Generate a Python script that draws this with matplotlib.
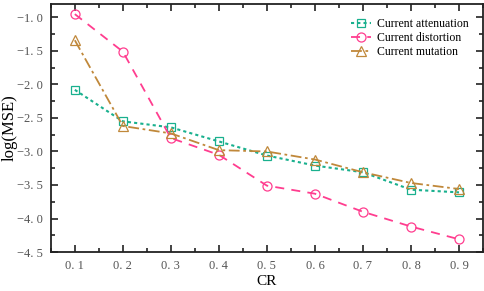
import matplotlib
matplotlib.use("Agg")
import matplotlib.pyplot as plt
from matplotlib.ticker import FuncFormatter, MultipleLocator

cr = [0.1, 0.2, 0.3, 0.4, 0.5, 0.6, 0.7, 0.8, 0.9]
attenuation = [-2.08, -2.55, -2.64, -2.85, -3.06, -3.21, -3.31, -3.57, -3.61]
distortion = [-0.95, -1.51, -2.80, -3.05, -3.51, -3.63, -3.90, -4.12, -4.31]
mutation = [-1.34, -2.62, -2.73, -2.98, -3.00, -3.12, -3.31, -3.47, -3.56]
labels = ["Current attenuation", "Current distortion", "Current mutation"]

plt.rcParams['font.family'] = ['Liberation Serif', 'DejaVu Serif']

fig = plt.figure(figsize=(4.84, 2.91), dpi=100)
ax = fig.add_axes([0.105, 0.134, 0.893, 0.852])

ax.plot(cr, attenuation, linestyle=(0, (1.5, 1.5)), color='#19b08e', lw=1.5,
        marker='s', ms=5.5, mfc='none', mec='#19b08e', mew=0.9, label=labels[0])
ax.plot(cr, distortion, linestyle=(0, (5, 4)), color='#ff3d8f', lw=1.3,
        marker='o', ms=6.5, mfc='none', mec='#ff3d8f', mew=0.9, label=labels[1])
ax.plot(cr, mutation, linestyle=(0, (6, 2, 1.5, 2)), color='#c0883a', lw=1.3,
        marker='^', ms=6.5, mfc='none', mec='#c0883a', mew=0.9, label=labels[2])

ax.set_xlim(0.05, 0.95)
ax.set_ylim(-4.5, -0.8)
ax.xaxis.set_major_locator(MultipleLocator(0.1))
ax.xaxis.set_minor_locator(MultipleLocator(0.05))
ax.yaxis.set_major_locator(MultipleLocator(0.5))
ax.yaxis.set_minor_locator(MultipleLocator(0.25))
ax.xaxis.set_major_formatter(FuncFormatter(lambda v, p: f"{v:.1f}".replace('.', '. ')))
ax.yaxis.set_major_formatter(FuncFormatter(lambda v, p: f"{v:.1f}".replace('-', '\u2212').replace('.', '. ')))
ax.tick_params(which='both', direction='in', top=True, right=True, labelsize=9, width=1.2, colors='#222222')
ax.tick_params(which='major', length=5)
ax.tick_params(which='minor', length=3)
ax.tick_params(axis='both', labelcolor='#555555', pad=6)
for s in ax.spines.values():
    s.set_linewidth(1.3)
    s.set_color('#222222')

ax.set_xlabel("CR", fontsize=11, labelpad=2)
ax.set_ylabel("log(MSE)", fontsize=12)
ax.yaxis.set_label_coords(-0.077, 0.5)
ax.legend(loc='upper right', frameon=False, fontsize=8.5, handlelength=1.7,
          handletextpad=0.5, labelspacing=0.15, borderaxespad=0.8)

fig.savefig("out.png", dpi=100)
